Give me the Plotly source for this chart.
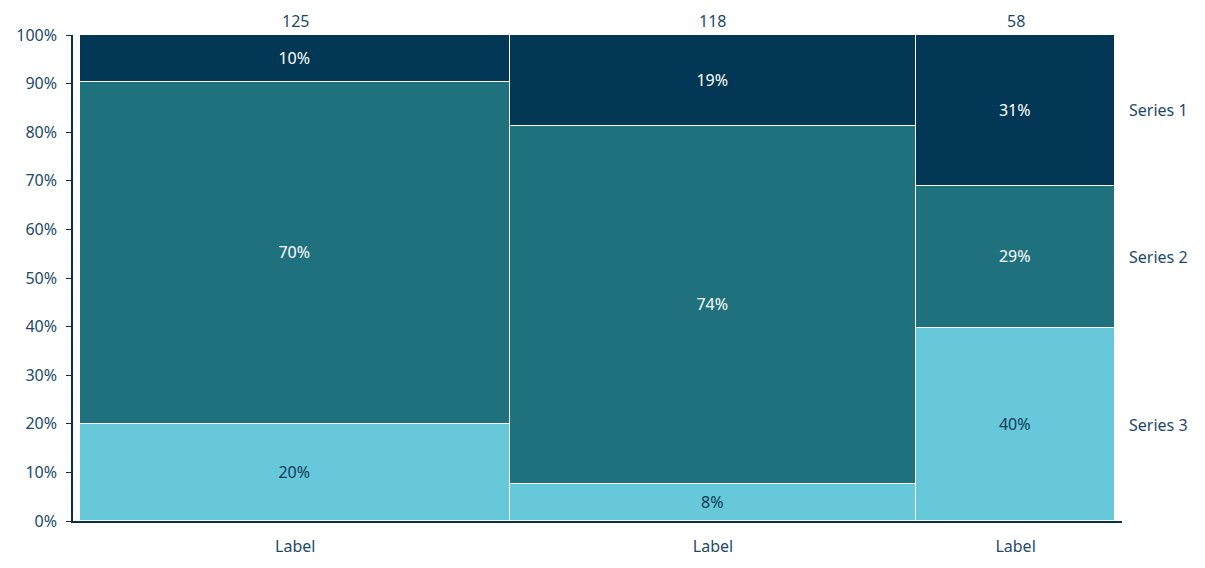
import plotly.graph_objects as go
import numpy as np

# column labels and counts per series (bottom to top)
categories = ["Label", "Label", "Label"]
series_names = ["Series 3", "Series 2", "Series 1"]
series3 = [25, 9, 23]
series2 = [88, 87, 17]
series1 = [12, 22, 18]

colors = {"Series 1": "#023755", "Series 2": "#20717E", "Series 3": "#67C8D9"}
text_colors = {"Series 1": "white", "Series 2": "white", "Series 3": "#0D3A55"}
font_color = "#1D4A68"
axis_color = "#0B2E4A"

counts = np.array([series3, series2, series1], dtype=float)
totals = counts.sum(axis=0)
widths = totals
starts = np.concatenate([[0], np.cumsum(widths)[:-1]])
mids = starts + widths / 2
pcts = counts / totals * 100

fig = go.Figure()
for name, row in zip(series_names, pcts):
    fig.add_trace(go.Bar(
        x=mids,
        y=row,
        width=widths,
        name=name,
        marker=dict(color=colors[name], line=dict(color="white", width=1.5)),
        text=[f"{v:.0f}%" for v in row],
        textposition="inside",
        insidetextanchor="middle",
        textangle=0,
        textfont=dict(color=text_colors[name], size=16),
        hovertemplate="%{text}<extra>" + name + "</extra>",
    ))

# totals above each column
for m, t in zip(mids, totals):
    fig.add_annotation(x=m, y=1, xref="x", yref="paper", text=f"{t:.0f}",
                       showarrow=False, yanchor="bottom", yshift=1,
                       font=dict(size=16, color=font_color))

# series names to the right of the last column
cum = np.cumsum(pcts[:, -1])
lows = cum - pcts[:, -1]
for name, lo, hi in zip(series_names, lows, cum):
    fig.add_annotation(x=1, y=(lo + hi) / 2, xref="paper", yref="y", text=name,
                       showarrow=False, xanchor="left", xshift=5,
                       font=dict(size=16, color=font_color))

span = widths.sum()
px_unit = span / 1035
fig.update_layout(
    barmode="stack",
    bargap=0,
    width=1197,
    height=560,
    margin=dict(l=65, r=83, t=27, b=47, autoexpand=False),
    plot_bgcolor="white",
    paper_bgcolor="white",
    showlegend=False,
    font=dict(family="Noto Sans, Open Sans, sans-serif", size=16, color=font_color),
    uniformtext=dict(minsize=16, mode="show"),
    xaxis=dict(
        range=[-7.3 * px_unit, span + 6.7 * px_unit],
        tickvals=mids,
        ticktext=categories,
        showgrid=False,
        zeroline=False,
        showline=True,
        linecolor=axis_color,
        linewidth=1.5,
        ticks="",
        ticklabelstandoff=10,
        tickfont=dict(size=16, color=font_color),
    ),
    yaxis=dict(
        range=[0, 100],
        tickvals=list(range(0, 101, 10)),
        ticktext=[f"{v}%" for v in range(0, 101, 10)],
        showgrid=False,
        zeroline=False,
        showline=True,
        linecolor=axis_color,
        linewidth=1.5,
        ticks="outside",
        ticklen=5,
        tickcolor=axis_color,
        ticklabelstandoff=6,
        tickfont=dict(size=16, color=font_color),
    ),
)

fig.write_html("out.html")
